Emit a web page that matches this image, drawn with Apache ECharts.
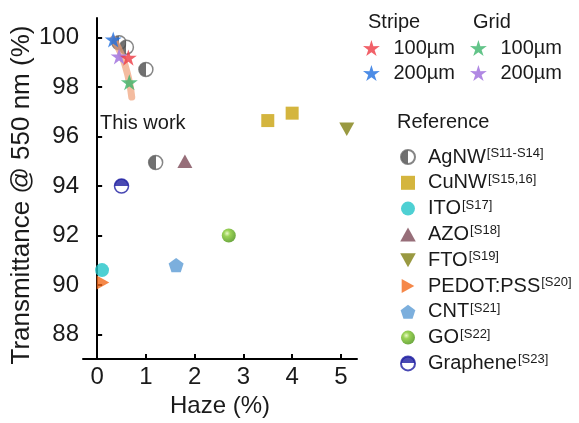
<!DOCTYPE html>
<html><head><meta charset="utf-8">
<script src="https://cdn.jsdelivr.net/npm/echarts@6/dist/echarts.min.js"></script>
<style>html,body{margin:0;padding:0;background:#fff}#c{width:579px;height:423px}</style>
</head><body><div id="c"></div>
<script>
// Axis ticks
const xTicks = [0, 1, 2, 3, 4, 5];
const yTicks = [88, 90, 92, 94, 96, 98, 100];

// This work: [haze %, transmittance %]
const stripe100 = [[0.64, 99.2]];
const stripe200 = [[0.33, 99.93]];
const grid100 = [[0.66, 98.2]];
const grid200 = [[0.45, 99.25]];
const thisWorkBand = [[0.33, 99.95], [0.5, 99.3], [0.64, 98.4], [0.71, 97.6]];

// Reference electrodes: [haze %, transmittance %]
const agnw = [[0.45, 99.8], [0.6, 99.62], [1.0, 98.72], [1.2, 94.95]];
const cunw = [[3.5, 96.65], [4.0, 96.95]];
const ito = [[0.1, 90.6]];
const azo = [[1.8, 95.0]];
const fto = [[5.12, 96.3]];
const pedot = [[0.12, 90.1]];
const cnt = [[1.62, 90.8]];
const go = [[2.7, 92.0]];
const graphene = [[0.5, 94.0]];

const refNames = ['AgNW', 'CuNW', 'ITO', 'AZO', 'FTO', 'PEDOT:PSS', 'CNT', 'GO', 'Graphene'];
const refCites = ['[S11-S14]', '[S15,16]', '[S17]', '[S18]', '[S19]', '[S20]', '[S21]', '[S22]', '[S23]'];

const FONT = 'Liberation Sans, Arial, Helvetica, sans-serif';

function polyPath(n, rOut, rIn) {
  let p = '';
  const k = rIn ? n * 2 : n;
  for (let i = 0; i < k; i++) {
    const r = rIn && i % 2 ? rIn : rOut;
    const a = -Math.PI / 2 + i * 2 * Math.PI / k;
    p += (i ? 'L' : 'M') + (50 + r * Math.cos(a)).toFixed(2) + ',' + (50 + r * Math.sin(a)).toFixed(2);
  }
  return 'path://' + p + 'Z';
}
const STAR = polyPath(5, 50, 19);
const PENTAGON = polyPath(5, 50);
const SQUARE = 'path://M0,0L100,0L100,100L0,100Z';
const TRI_UP = 'path://M50,0L100,90L0,90Z';
const TRI_DOWN = 'path://M0,0L100,0L50,90Z';
const TRI_RIGHT = 'path://M0,0L90,50L0,100Z';

function split(c1, c2, vertical) {
  return {
    type: 'linear', x: 0, y: 0, x2: vertical ? 0 : 1, y2: vertical ? 1 : 0,
    colorStops: [{ offset: 0, color: c1 }, { offset: 0.5, color: c1 }, { offset: 0.5, color: c2 }, { offset: 1, color: c2 }]
  };
}

function sc(name, data, symbol, size, style, z) {
  return { type: 'scatter', name, data, symbol, symbolSize: size, symbolKeepAspect: true,
    itemStyle: style, z: z || 2, emphasis: { disabled: true } };
}

const series = [
  sc('AgNW', agnw, 'circle', 14, { color: split('#4d4d4d', '#ffffff'), borderColor: '#666', borderWidth: 1.5 }, 2),
  { type: 'line', name: 'band', data: thisWorkBand, showSymbol: false, smooth: true, z: 3,
    lineStyle: { width: 7, color: 'rgba(240,160,120,0.7)', cap: 'round' }, silent: true },
  sc('Stripe 200µm', stripe200, STAR, 17, { color: '#1f6fe0' }, 4),
  sc('Grid 200µm', grid200, STAR, 17, { color: '#a77be0', opacity: 0.9 }, 4),
  sc('Stripe 100µm', stripe100, STAR, 17, { color: '#ee3a43' }, 4),
  sc('Grid 100µm', grid100, STAR, 17, { color: '#3cb56b' }, 4),
  sc('CuNW', cunw, SQUARE, 13, { color: '#c9a20e' }),
  sc('ITO', ito, 'circle', 14, { color: '#22c4c8' }),
  sc('AZO', azo, TRI_UP, 15, { color: '#7d4a57' }),
  sc('FTO', fto, TRI_DOWN, 15, { color: '#7f7f12' }),
  sc('PEDOT:PSS', pedot, TRI_RIGHT, 14, { color: '#f26a1b' }),
  sc('CNT', cnt, PENTAGON, 15, { color: '#5b9bd5' }),
  sc('GO', go, 'circle', 14, { color: { type: 'radial', x: 0.38, y: 0.35, r: 0.65,
    colorStops: [{ offset: 0, color: '#e4f7b8' }, { offset: 0.35, color: '#82c82c' }, { offset: 1, color: '#4a9412' }] } }),
  sc('Graphene', graphene, 'circle', 14, { color: split('#1c1ca0', '#ffffff', true), borderColor: '#1c1ca0', borderWidth: 1.5 })
];

const baseText = { fontFamily: FONT, fontSize: 20, color: '#1a1a1a', lineHeight: 20 };

function starLegend(names, left) {
  return { data: names, orient: 'vertical', left, top: 33, itemWidth: 34, itemHeight: 16, itemGap: 5,
    selectedMode: false, formatter: n => n.split(' ')[1], textStyle: baseText };
}

const rich = { b: { fontFamily: FONT, fontSize: 20, color: '#1a1a1a', lineHeight: 20 },
  s: { fontFamily: FONT, fontSize: 13, color: '#1a1a1a', lineHeight: 20, verticalAlign: 'top', padding: [0, 0, 0, 1] } };

const option = {
  animation: false,
  backgroundColor: '#fff',
  grid: { left: 83, right: 222, top: 18, bottom: 56, containLabel: false },
  xAxis: {
    type: 'value', min: -0.29, max: 5.33,
    name: 'Haze (%)', nameLocation: 'middle', nameGap: 30,
    nameTextStyle: { fontFamily: FONT, fontSize: 24, color: '#1a1a1a' },
    axisLine: { lineStyle: { color: '#000', width: 2 } },
    axisTick: { inside: true, length: 5, lineStyle: { width: 2, color: '#000' }, customValues: xTicks },
    axisLabel: { customValues: xTicks, fontFamily: FONT, fontSize: 24, color: '#1a1a1a', margin: 6 },
    splitLine: { show: false }
  },
  yAxis: {
    type: 'value', min: 87, max: 100.8,
    name: 'Transmittance @ 550 nm (%)', nameLocation: 'middle', nameGap: 44,
    nameTextStyle: { fontFamily: FONT, fontSize: 26, color: '#1a1a1a', padding: [0, 13, 0, 0] },
    axisLine: { lineStyle: { color: '#000', width: 2 } },
    axisTick: { inside: true, length: 5, lineStyle: { width: 2, color: '#000' }, customValues: yTicks },
    axisLabel: { customValues: yTicks, fontFamily: FONT, fontSize: 24, color: '#1a1a1a', margin: 4 },
    splitLine: { show: false }
  },
  legend: [
    starLegend(['Stripe 100µm', 'Stripe 200µm'], 358),
    starLegend(['Grid 100µm', 'Grid 200µm'], 465),
    { data: refNames, orient: 'vertical', left: 395, top: 142, itemWidth: 30, itemHeight: 14, itemGap: 5.8,
      selectedMode: false,
      formatter: n => '{b|' + n + '}{s|' + refCites[refNames.indexOf(n)] + '}',
      textStyle: { ...baseText, rich } }
  ],
  graphic: [
    { type: 'text', left: 368, top: 12, style: { text: 'Stripe', font: '20px ' + FONT, fill: '#1a1a1a' } },
    { type: 'text', left: 473, top: 12, style: { text: 'Grid', font: '20px ' + FONT, fill: '#1a1a1a' } },
    { type: 'text', left: 397, top: 112, style: { text: 'Reference', font: '20px ' + FONT, fill: '#1a1a1a' } },
    { type: 'text', left: 100, top: 113, style: { text: 'This work', font: '20px ' + FONT, fill: '#1a1a1a' } }
  ],
  series
};

echarts.init(document.getElementById('c'), null, { renderer: 'canvas' }).setOption(option);
</script>
</body></html>
